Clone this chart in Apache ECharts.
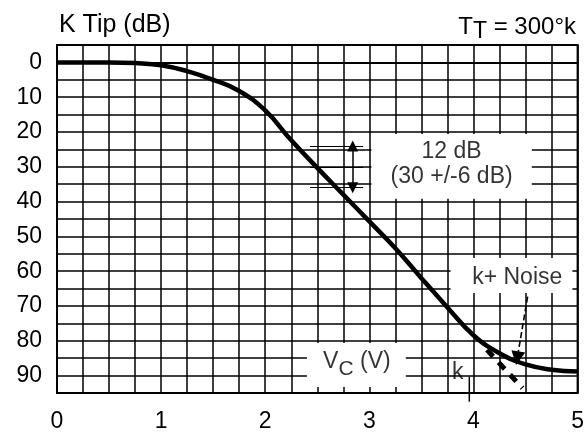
<!DOCTYPE html>
<html>
<head>
<meta charset="utf-8">
<script src="https://cdn.jsdelivr.net/npm/echarts@6/dist/echarts.min.js"></script>
<style>
html,body{margin:0;padding:0;background:#fff;}
#chart{width:587px;height:434px;}
</style>
</head>
<body>
<div id="chart"></div>
<script>
// ---- data ----
const vc = [0, 0.5, 0.75, 1.0, 1.25, 1.5, 1.75, 2.0, 2.25, 2.5, 2.75, 3.0, 3.25, 3.5, 3.75, 4.0, 4.25, 4.5, 4.75, 5.0];
const kTip = [0, 0, 0.2, 0.8, 2.5, 5, 8.2, 13.8, 22.4, 30.3, 38, 45.7, 53.4, 62, 70.4, 78.4, 83.6, 86.8, 88.3, 88.8];
const xTickLabels = [0, 1, 2, 3, 4, 5];
const yTickLabels = [0, 10, 20, 30, 40, 50, 60, 70, 80, 90];
const kExtrapolation = [[4.13, 82.6], [4.47, 93.6]];
const noiseArrow = [[4.52, 67.3], [4.42, 85]];
const spanLevels = [24, 30, 36];
const spanX = [2.43, 2.94];
const spanArrowX = 2.84;
const kTick = [[3.96, 90.3], [3.96, 97.5]];
const boxes = [[3.02, 20.6, 4.56, 39.2], [3.78, 56.2, 4.95, 66.3], [2.40, 80.6, 3.35, 93.3]];
const textLabels = [
  { pos: [3.79, 29.3], text: '12 dB\n(30 +/-6 dB)' },
  { pos: [4.42, 61.8], text: 'k+ Noise' },
  { pos: [2.88, 86.0], text: '{a|V}{b|C}{a| (V)}' },
  { pos: [3.85, 89.2], text: 'k' }
];

const FF = '"Liberation Sans", Arial, sans-serif';
const curve = vc.map((x, i) => [x, kTip[i]]);

const chart = echarts.init(document.getElementById('chart'), null, { renderer: 'canvas' });
const option = {
  animation: false,
  backgroundColor: '#fff',
  title: [
    { text: 'K Tip (dB)', left: 54, top: 8,
      textStyle: { fontSize: 25, fontWeight: 'normal', fontFamily: FF, color: '#000' } },
    { text: '{a|T}{b|T}{a| = 300°k}', right: 6, top: 6,
      textStyle: { fontFamily: FF, color: '#000', fontWeight: 'normal',
        rich: { a: { fontSize: 24, fontFamily: FF, color: '#000', fontWeight: 'normal' },
                b: { fontSize: 23, fontFamily: FF, color: '#000', fontWeight: 'normal', padding: [9, 0, 0, 0] } } } }
  ],
  grid: { left: 57, right: 9, top: 45, bottom: 41, show: true, borderColor: '#000', borderWidth: 2, backgroundColor: '#fff' },
  xAxis: {
    type: 'value', min: 0, max: 5, interval: 0.25,
    axisLine: { show: true, lineStyle: { color: '#000', width: 2 } },
    axisTick: { show: false },
    splitLine: { show: true, lineStyle: { color: '#000', width: 1.5 } },
    axisLabel: { margin: 17, fontSize: 23, fontFamily: FF, color: '#000',
      formatter: v => xTickLabels.includes(v) ? String(v) : '' }
  },
  yAxis: {
    type: 'value', inverse: true, min: -5, max: 95, interval: 5,
    axisLine: { show: true, lineStyle: { color: '#000', width: 2 } },
    axisTick: { show: false },
    splitLine: { show: true, lineStyle: { color: '#000', width: 1.5 } },
    axisLabel: { margin: 15, fontSize: 23, fontFamily: FF, color: '#000',
      formatter: v => yTickLabels.includes(v) ? String(v) : '' }
  },
  series: [
    {
      name: 'boxes', type: 'line', data: [], silent: true,
      markArea: {
        silent: true,
        itemStyle: { color: '#fff', opacity: 1, borderWidth: 0 },
        emphasis: { disabled: true },
        data: boxes.map(b => [{ coord: [b[0], b[1]] }, { coord: [b[2], b[3]] }])
      }
    },
    {
      name: 'K Tip', type: 'line', data: curve, smooth: 0.45, symbol: 'none',
      lineStyle: { color: '#000', width: 4.5 }, z: 5
    },
    {
      name: 'k', type: 'line', data: kExtrapolation, symbol: 'none',
      lineStyle: { color: '#000', width: 5, type: [9, 8] }, z: 5
    },
    {
      name: 'kTick', type: 'line', data: kTick, symbol: 'none', clip: false,
      lineStyle: { color: '#000', width: 1.5 }, z: 5
    },
    {
      name: 'annot', type: 'line', data: [], z: 5,
      markLine: {
        silent: true, animation: false,
        label: { show: false },
        emphasis: { disabled: true },
        symbol: 'none',
        data: spanLevels.map(l => [{ coord: [spanX[0], l] }, { coord: [spanX[1], l] }]),
        lineStyle: { color: '#000', width: 1, type: 'solid' },
        itemStyle: { color: '#000' }
      }
    },
    {
      name: 'spanArrow', type: 'line', data: [], z: 5,
      markLine: {
        silent: true, animation: false,
        label: { show: false },
        emphasis: { disabled: true },
        symbol: ['triangle', 'triangle'], symbolSize: 11,
        data: [[{ coord: [spanArrowX, spanLevels[0]] }, { coord: [spanArrowX, spanLevels[2]] }]],
        lineStyle: { color: '#000', width: 1.5, type: 'solid' },
        itemStyle: { color: '#000' }
      }
    },
    {
      name: 'noiseArrow', type: 'line', data: [], z: 5,
      markLine: {
        silent: true, animation: false,
        label: { show: false },
        emphasis: { disabled: true },
        symbol: ['none', 'triangle'], symbolSize: 14,
        data: [[{ coord: noiseArrow[0] }, { coord: noiseArrow[1] }]],
        lineStyle: { color: '#000', width: 1.6, type: [6, 3], opacity: 1 },
        itemStyle: { color: '#000' }
      }
    },
    {
      name: 'labels', type: 'scatter', symbolSize: 1, z: 6, silent: true,
      itemStyle: { color: 'rgba(0,0,0,0)' },
      data: textLabels.map(t => ({
        value: t.pos,
        label: {
          show: true, position: 'inside', formatter: t.text,
          fontSize: 23, fontFamily: FF, color: '#000', lineHeight: 25, align: 'center',
          rich: { a: { fontSize: 23, fontFamily: FF, color: '#000' },
                  b: { fontSize: 21, fontFamily: FF, color: '#000', padding: [16, 0, 0, 0] } }
        }
      }))
    }
  ]
};
chart.setOption(option);
</script>
</body>
</html>
